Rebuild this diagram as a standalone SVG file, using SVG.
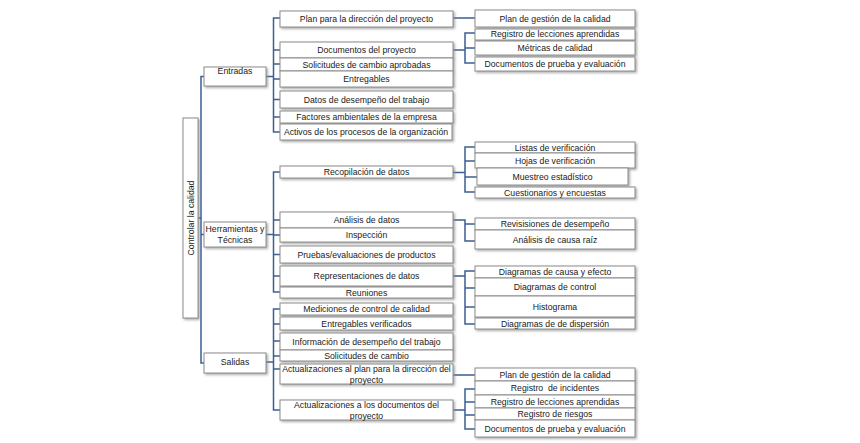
<svg xmlns="http://www.w3.org/2000/svg" width="860" height="443" viewBox="0 0 860 443">
<defs>
<filter id="sh" x="-10%" y="-30%" width="120%" height="170%">
<feDropShadow dx="1.5" dy="1.5" stdDeviation="0.9" flood-color="#8a8a8a" flood-opacity="0.7"/>
</filter>
<style>
rect{fill:#fff;stroke:#8c8c8c;stroke-width:1;filter:url(#sh)}
text{font-family:"Liberation Sans",Arial,sans-serif;font-size:8.7px;fill:#1a1a1a;text-anchor:middle;white-space:pre}
.c path{fill:none;stroke:#3b5f94;stroke-width:1.5}
</style>
</defs>
<rect x="0" y="0" width="860" height="443" style="fill:#fff;stroke:none;filter:none"/>
<g class="c" id="connectors">
<path d="M198,218H201M204,76.5H201V363H204M201,234.5H204"/>
<path d="M266,76.5H273.5M280,18H273.5V132H280M273.5,50H280M273.5,64H280M273.5,79H280M273.5,99.5H280M273.5,117H280"/>
<path d="M453,18H475M453,50H465M475,33H465V63H475M465,48H475"/>
<path d="M266,234.5H273.5M280,172H273.5V292H280M273.5,220H280M273.5,235H280M273.5,254.5H280M273.5,276H280"/>
<path d="M453,172.5H465M475,147H465V192H475M465,161H475M465,177H477"/>
<path d="M453,220H465V241H475M465,224H475"/>
<path d="M453,276H465M475,271H465V324H475M465,288H475M465,307H475"/>
<path d="M266,362H273.5M280,309H273.5V410H280M273.5,324H280M273.5,341H280M273.5,356H280M273.5,369H280"/>
<path d="M453,375H475M453,410H465M475,389H465V429H475M465,402H475M465,415H475"/>
</g>
<g id="root"><rect x="183" y="118" width="15" height="200"/><text transform="translate(193.5,218) rotate(-90)">Controlar la calidad</text></g>
<g id="entradas"><rect x="204" y="67" width="62" height="19"/><text x="235" y="74">Entradas</text></g>
<g id="herramientas"><rect x="204" y="222" width="62" height="25"/><text x="235" y="232">Herramientas y</text><text x="235" y="243">Técnicas</text></g>
<g id="salidas"><rect x="204" y="353" width="62" height="20"/><text x="235" y="365">Salidas</text></g>

<g id="e1"><rect x="280" y="11" width="173" height="16"/><text x="366.5" y="21.5">Plan para la dirección del proyecto</text></g>
<g id="e2"><rect x="280" y="42" width="173" height="16"/><text x="366.5" y="53">Documentos del proyecto</text></g>
<g id="e3"><rect x="280" y="58" width="173" height="13"/><text x="366.5" y="67.5">Solicitudes de cambio aprobadas</text></g>
<g id="e4"><rect x="280" y="71" width="173" height="16"/><text x="366.5" y="82">Entregables</text></g>
<g id="e5"><rect x="280" y="91" width="173" height="17"/><text x="366.5" y="102.5">Datos de desempeño del trabajo</text></g>
<g id="e6"><rect x="280" y="111" width="173" height="12"/><text x="366.5" y="120">Factores ambientales de la empresa</text></g>
<g id="e7"><rect x="280" y="124" width="172" height="16"/><text x="366" y="135">Activos de los procesos de la organización</text></g>

<g id="e1a"><rect x="475" y="10" width="160" height="17"/><text x="555" y="21.5">Plan de gestión de la calidad</text></g>
<g id="e2a"><rect x="475" y="29" width="160" height="11"/><text x="555" y="37">Registro de lecciones aprendidas</text></g>
<g id="e2b"><rect x="475" y="41" width="160" height="14"/><text x="555" y="51">Métricas de calidad</text></g>
<g id="e2c"><rect x="475" y="57" width="160" height="14"/><text x="555" y="67">Documentos de prueba y evaluación</text></g>

<g id="h1"><rect x="280" y="166" width="173" height="12"/><text x="366.5" y="175">Recopilación de datos</text></g>
<g id="h2"><rect x="280" y="212" width="173" height="16"/><text x="366.5" y="223">Análisis de datos</text></g>
<g id="h3"><rect x="280" y="228" width="173" height="14"/><text x="366.5" y="238">Inspección</text></g>
<g id="h4"><rect x="280" y="246" width="173" height="17"/><text x="366.5" y="257.5">Pruebas/evaluaciones de productos</text></g>
<g id="h5"><rect x="280" y="266" width="173" height="20"/><text x="366.5" y="279">Representaciones de datos</text></g>
<g id="h6"><rect x="280" y="287" width="173" height="11"/><text x="366.5" y="295.5">Reuniones</text></g>

<g id="h1a"><rect x="475" y="142" width="160" height="11"/><text x="555" y="150.5">Listas de verificación</text></g>
<g id="h1b"><rect x="475" y="153" width="160" height="15"/><text x="555" y="163.5">Hojas de verificación</text></g>
<g id="h1c"><rect x="477" y="168" width="151" height="17"/><text x="552.5" y="179.5">Muestreo estadístico</text></g>
<g id="h1d"><rect x="475" y="187" width="160" height="11"/><text x="555" y="195.5">Cuestionarios y encuestas</text></g>
<g id="h2a"><rect x="475" y="218" width="160" height="12"/><text x="555" y="227">Revisisiones de desempeño</text></g>
<g id="h2b"><rect x="475" y="230" width="160" height="19"/><text x="555" y="242.5">Análisis de causa raíz</text></g>
<g id="h5a"><rect x="475" y="266" width="160" height="12"/><text x="555" y="275">Diagramas de causa y efecto</text></g>
<g id="h5b"><rect x="475" y="278" width="160" height="18"/><text x="555" y="290">Diagramas de control</text></g>
<g id="h5c"><rect x="475" y="296" width="160" height="21"/><text x="555" y="309.5">Histograma</text></g>
<g id="h5d"><rect x="475" y="318" width="160" height="11"/><text x="555" y="326.5">Diagramas de de dispersión</text></g>

<g id="s1"><rect x="280" y="303" width="173" height="12"/><text x="366.5" y="312">Mediciones de control de calidad</text></g>
<g id="s2"><rect x="280" y="317" width="173" height="13"/><text x="366.5" y="326.5">Entregables verificados</text></g>
<g id="s3"><rect x="280" y="333" width="173" height="17"/><text x="366.5" y="344.5">Información de desempeño del trabajo</text></g>
<g id="s4"><rect x="280" y="350" width="173" height="11"/><text x="366.5" y="358.5">Solicitudes de cambio</text></g>
<g id="s5"><rect x="280" y="364" width="173" height="20"/><text x="366.5" y="372">Actualizaciones al plan para la dirección del</text><text x="366.5" y="382.5">proyecto</text></g>
<g id="s6"><rect x="280" y="400" width="173" height="20"/><text x="366.5" y="408">Actualizaciones a los documentos del</text><text x="366.5" y="419">proyecto</text></g>

<g id="s5a"><rect x="475" y="368" width="160" height="13"/><text x="555" y="377.5">Plan de gestión de la calidad</text></g>
<g id="s6a"><rect x="475" y="381" width="160" height="14"/><text x="555" y="391">Registro  de incidentes</text></g>
<g id="s6b"><rect x="475" y="395" width="160" height="13"/><text x="555" y="404.5">Registro de lecciones aprendidas</text></g>
<g id="s6c"><rect x="475" y="408" width="160" height="12"/><text x="555" y="417">Registro de riesgos</text></g>
<g id="s6d"><rect x="475" y="420" width="160" height="17"/><text x="555" y="431.5">Documentos de prueba y evaluación</text></g>
</svg>
